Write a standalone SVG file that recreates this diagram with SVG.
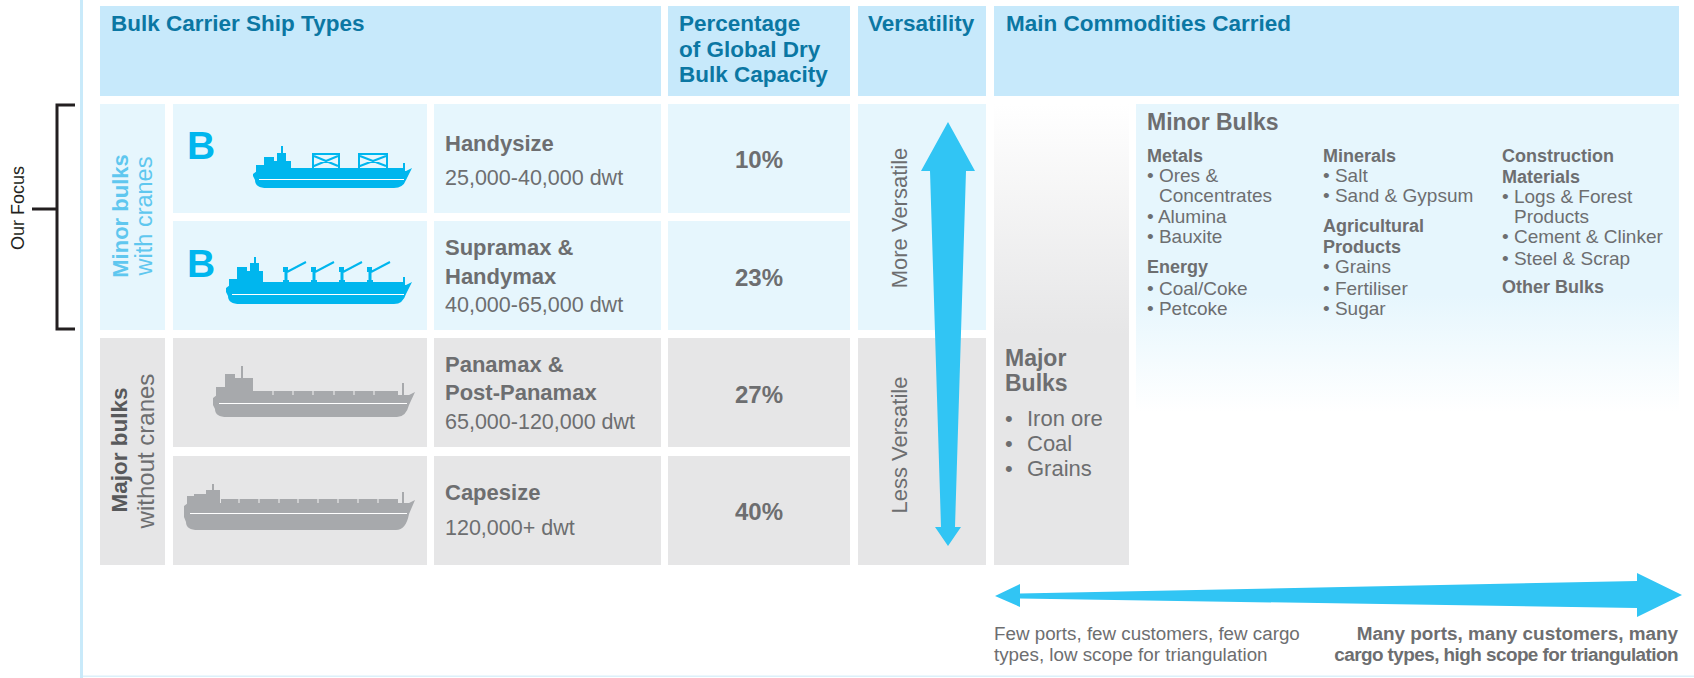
<svg xmlns="http://www.w3.org/2000/svg" width="1694" height="678" viewBox="0 0 1694 678">
<defs>
<linearGradient id="gMajor" x1="0" y1="104" x2="0" y2="565" gradientUnits="userSpaceOnUse">
<stop offset="0" stop-color="#ffffff"/>
<stop offset="0.5" stop-color="#e6e6e7"/>
<stop offset="1" stop-color="#e6e6e7"/>
</linearGradient>
<linearGradient id="gMinor" x1="0" y1="104" x2="0" y2="412" gradientUnits="userSpaceOnUse">
<stop offset="0" stop-color="#e6f6fd"/>
<stop offset="0.62" stop-color="#e6f6fd"/>
<stop offset="1" stop-color="#e6f6fd" stop-opacity="0"/>
</linearGradient>
<style>
.hdr{fill:#c7e9fb}
.lb{fill:#e6f6fd}
.gr{fill:#e6e6e7}
text{font-family:"Liberation Sans",Arial,sans-serif}
.ht{font-size:22.5px;font-weight:bold;fill:#0b77a3}
.nm{font-size:22px;font-weight:bold;fill:#6d6e70}
.dw{font-size:21.5px;fill:#6d6e70}
.pc{font-size:24px;font-weight:bold;fill:#6d6e70;text-anchor:middle}
.vt{font-size:22px;fill:#6d6e70;text-anchor:middle}
.cs{font-size:18px;font-weight:bold;fill:#6d6e70}
.ci{font-size:19px;fill:#6d6e70}
.blue{fill:#00b6ee}
.grey{fill:#a7a9ac}
.logo{font-size:39px;font-weight:bold;fill:#00b6ee}
.arrow{fill:#31c5f4}
.stripe{stroke:#ffffff;stroke-width:1.2;fill:none}
.sl{font-size:18.8px;fill:#6d6e70}
.sr{font-size:18.9px;font-weight:bold;fill:#6d6e70;text-anchor:end}
</style>
</defs>

<rect x="0" y="0" width="1694" height="678" fill="#ffffff"/>
<rect x="80" y="0" width="3" height="678" fill="#c9eafa"/>
<rect x="83" y="675.5" width="1611" height="1.5" fill="#dcf0fa"/>

<g id="focus">
<path d="M75,105 H57 V329 H75 M32,209 H57" fill="none" stroke="#231f20" stroke-width="3"/>
<text transform="translate(24,208) rotate(-90)" text-anchor="middle" style="font-size:18px;fill:#231f20">Our Focus</text>
</g>

<g id="header">
<g id="h-types"><rect class="hdr" x="100" y="6" width="561" height="90"/><text class="ht" x="111" y="31">Bulk Carrier Ship Types</text></g>
<g id="h-pct"><rect class="hdr" x="668" y="6" width="182" height="90"/>
<text class="ht" x="679" y="31">Percentage</text><text class="ht" x="679" y="57">of Global Dry</text><text class="ht" x="679" y="82">Bulk Capacity</text></g>
<g id="h-vers"><rect class="hdr" x="858" y="6" width="128" height="90"/><text class="ht" x="868" y="31">Versatility</text></g>
<g id="h-comm"><rect class="hdr" x="994" y="6" width="685" height="90"/><text class="ht" x="1006" y="31">Main Commodities Carried</text></g>
</g>

<g id="label-minor">
<rect class="lb" x="100" y="104" width="65" height="226"/>
<text transform="translate(128,216) rotate(-90)" text-anchor="middle" style="font-size:22px;font-weight:bold;fill:#5fc7ef">Minor bulks</text>
<text transform="translate(152,216) rotate(-90)" text-anchor="middle" style="font-size:23.5px;fill:#5fc7ef">with cranes</text>
</g>
<g id="label-major">
<rect class="gr" x="100" y="338" width="65" height="227"/>
<text transform="translate(127,450) rotate(-90)" text-anchor="middle" style="font-size:22.5px;font-weight:bold;fill:#58595b">Major bulks</text>
<text transform="translate(154,451) rotate(-90)" text-anchor="middle" style="font-size:24px;fill:#6d6e70">without cranes</text>
</g>

<g id="row-handysize">
<rect class="lb" x="173" y="104" width="254" height="109"/>
<text class="logo" x="187" y="159">B</text>
<g class="blue">
<path d="M257,171 L406,171 L412,168 L406,180 Q403,188 394,188 L267,188 Q255,188 255,180 L253,176 L253,174 Z"/>
<rect x="256" y="165" width="9" height="7"/>
<rect x="264" y="157" width="10" height="15"/>
<rect x="274" y="161" width="17" height="11"/>
<rect x="277" y="153" width="9" height="9"/>
<rect x="281" y="146" width="2" height="8"/>
<rect x="291" y="168" width="113" height="4"/>
<rect x="403" y="163" width="2" height="8"/>
</g>
<line class="stripe" x1="259" y1="179.5" x2="404" y2="179.5"/>
<path d="M313,171 V154 M339,171 V154 M312,154 H340 M314,156 L338,166 M314,166 L338,156 M359,171 V154 M387,171 V154 M358,154 H388 M360,156 L386,166 M360,166 L386,156" fill="none" stroke="#00b6ee" stroke-width="2"/>
<rect class="lb" x="434" y="104" width="227" height="109"/>
<text class="nm" x="445" y="151">Handysize</text>
<text class="dw" x="445" y="185">25,000-40,000 dwt</text>
<rect class="lb" x="668" y="104" width="182" height="109"/>
<text class="pc" x="759" y="168">10%</text>
</g>

<g id="row-supramax">
<rect class="lb" x="173" y="221" width="254" height="109"/>
<text class="logo" x="187" y="277">B</text>
<g class="blue">
<path d="M230,285 L406,285 L412,282 L406,294 Q403,304 394,304 L240,304 Q228,304 228,296 L226,292 L226,288 Z"/>
<rect x="229" y="279" width="9" height="7"/>
<rect x="237" y="267" width="10" height="18"/>
<rect x="247" y="271" width="16" height="14"/>
<rect x="250" y="263" width="9" height="9"/>
<rect x="254" y="257" width="2" height="7"/>
<rect x="263" y="282" width="141" height="4"/>
<rect x="403" y="277" width="2" height="8"/>
<rect x="283" y="280" width="6" height="5"/><rect x="284.5" y="270" width="3" height="12"/><rect x="283" y="267" width="5" height="5"/>
<rect x="311" y="280" width="6" height="5"/><rect x="312.5" y="270" width="3" height="12"/><rect x="311" y="267" width="5" height="5"/>
<rect x="339" y="280" width="6" height="5"/><rect x="340.5" y="270" width="3" height="12"/><rect x="339" y="267" width="5" height="5"/>
<rect x="367" y="280" width="6" height="5"/><rect x="368.5" y="270" width="3" height="12"/><rect x="367" y="267" width="5" height="5"/>
</g>
<path d="M287,272 L306,262 M315,272 L334,262 M343,272 L362,262 M371,272 L390,262" fill="none" stroke="#00b6ee" stroke-width="2"/>
<line class="stripe" x1="232" y1="294.5" x2="404" y2="294.5"/>
<rect class="lb" x="434" y="221" width="227" height="109"/>
<text class="nm" x="445" y="255">Supramax &amp;</text>
<text class="nm" x="445" y="284">Handymax</text>
<text class="dw" x="445" y="312">40,000-65,000 dwt</text>
<rect class="lb" x="668" y="221" width="182" height="109"/>
<text class="pc" x="759" y="286">23%</text>
</g>

<g id="row-panamax">
<rect class="gr" x="173" y="338" width="254" height="109"/>
<g class="grey">
<path d="M217,395 L409,395 L415,392 L409,405 Q406,417 397,417 L227,417 Q215,417 215,409 L213,405 L213,398 Z"/>
<rect x="216" y="387" width="10" height="9"/>
<rect x="225" y="374" width="10" height="22"/>
<rect x="235" y="378" width="18" height="18"/>
<rect x="241" y="366" width="2" height="13"/>
<rect x="253" y="391" width="145" height="5"/>
<rect x="402" y="383" width="2" height="13"/>
</g>
<path d="M273,391 V395 M293,391 V395 M313,391 V395 M334,391 V395 M354,391 V395 M374,391 V395" stroke="#e6e6e7" stroke-width="1.2"/>
<line class="stripe" x1="219" y1="403.5" x2="407" y2="403.5"/>
<rect class="gr" x="434" y="338" width="227" height="109"/>
<text class="nm" x="445" y="372">Panamax &amp;</text>
<text class="nm" x="445" y="400">Post-Panamax</text>
<text class="dw" x="445" y="429">65,000-120,000 dwt</text>
<rect class="gr" x="668" y="338" width="182" height="109"/>
<text class="pc" x="759" y="403">27%</text>
</g>

<g id="row-capesize">
<rect class="gr" x="173" y="456" width="254" height="109"/>
<g class="grey">
<path d="M188,503 L409,503 L415,500 L409,514 Q406,530 396,530 L198,530 Q186,530 186,522 L184,517 L184,506 Z"/>
<rect x="187" y="496" width="9" height="8"/>
<rect x="194" y="494" width="12" height="10"/>
<rect x="206" y="490" width="14" height="14"/>
<rect x="212" y="484" width="2" height="7"/>
<rect x="221" y="499" width="177" height="5"/>
<rect x="402" y="492" width="2" height="12"/>
</g>
<path d="M239,499 V503 M259,499 V503 M279,499 V503 M298,499 V503 M318,499 V503 M338,499 V503 M358,499 V503 M378,499 V503" stroke="#e6e6e7" stroke-width="1.2"/>
<line class="stripe" x1="190" y1="513.5" x2="407" y2="513.5"/>
<rect class="gr" x="434" y="456" width="227" height="109"/>
<text class="nm" x="445" y="500">Capesize</text>
<text class="dw" x="445" y="535">120,000+ dwt</text>
<rect class="gr" x="668" y="456" width="182" height="109"/>
<text class="pc" x="759" y="520">40%</text>
</g>

<g id="vers-more">
<rect class="lb" x="858" y="104" width="128" height="226"/>
<text class="vt" transform="translate(907,218) rotate(-90)">More Versatile</text>
</g>
<g id="vers-less">
<rect class="gr" x="858" y="338" width="128" height="227"/>
<text class="vt" transform="translate(907,445) rotate(-90)">Less Versatile</text>
</g>

<g id="major-bulks">
<rect x="994" y="104" width="135" height="461" fill="url(#gMajor)"/>
<text style="font-size:23px;font-weight:bold;fill:#6d6e70" x="1005" y="366">Major</text>
<text style="font-size:23px;font-weight:bold;fill:#6d6e70" x="1005" y="391">Bulks</text>
<g style="font-size:22px;fill:#6d6e70">
<text x="1005" y="426">•</text><text x="1027" y="426">Iron ore</text>
<text x="1005" y="451">•</text><text x="1027" y="451">Coal</text>
<text x="1005" y="476">•</text><text x="1027" y="476">Grains</text>
</g>
</g>

<g id="minor-bulks">
<rect x="1136" y="104" width="543" height="308" fill="url(#gMinor)"/>
<text style="font-size:23px;font-weight:bold;fill:#6d6e70" x="1147" y="130">Minor Bulks</text>
<text class="cs" x="1147" y="162">Metals</text>
<text class="ci" x="1147" y="182">• Ores &amp;</text>
<text class="ci" x="1159" y="202">Concentrates</text>
<text class="ci" x="1147" y="223">• Alumina</text>
<text class="ci" x="1147" y="243">• Bauxite</text>
<text class="cs" x="1147" y="273">Energy</text>
<text class="ci" x="1147" y="295">• Coal/Coke</text>
<text class="ci" x="1147" y="315">• Petcoke</text>
<text class="cs" x="1323" y="162">Minerals</text>
<text class="ci" x="1323" y="182">• Salt</text>
<text class="ci" x="1323" y="202">• Sand &amp; Gypsum</text>
<text class="cs" x="1323" y="232">Agricultural</text>
<text class="cs" x="1323" y="253">Products</text>
<text class="ci" x="1323" y="273">• Grains</text>
<text class="ci" x="1323" y="295">• Fertiliser</text>
<text class="ci" x="1323" y="315">• Sugar</text>
<text class="cs" x="1502" y="162">Construction</text>
<text class="cs" x="1502" y="183">Materials</text>
<text class="ci" x="1502" y="203">• Logs &amp; Forest</text>
<text class="ci" x="1514" y="223">Products</text>
<text class="ci" x="1502" y="243">• Cement &amp; Clinker</text>
<text class="ci" x="1502" y="265">• Steel &amp; Scrap</text>
<text class="cs" x="1502" y="293">Other Bulks</text>
</g>

<g id="connectors">
<path class="arrow" d="M948,122 L975,171 L966,171 L955,527 L961,527 L948,546 L935,527 L941,527 L930,171 L921,171 Z"/>
<path class="arrow" d="M995,596 L1020,584 L1020,593.5 L1637,581 L1637,573 L1682,595 L1637,617 L1637,608 L1020,598.5 L1020,607 Z"/>
</g>

<g id="scale-labels">
<text class="sl" x="994" y="640">Few ports, few customers, few cargo</text>
<text class="sl" x="994" y="661">types, low scope for triangulation</text>
<text class="sr" x="1678" y="640">Many ports, many customers, many</text>
<text class="sr" x="1678" y="661" style="letter-spacing:-0.55px">cargo types, high scope for triangulation</text>
</g>
</svg>
